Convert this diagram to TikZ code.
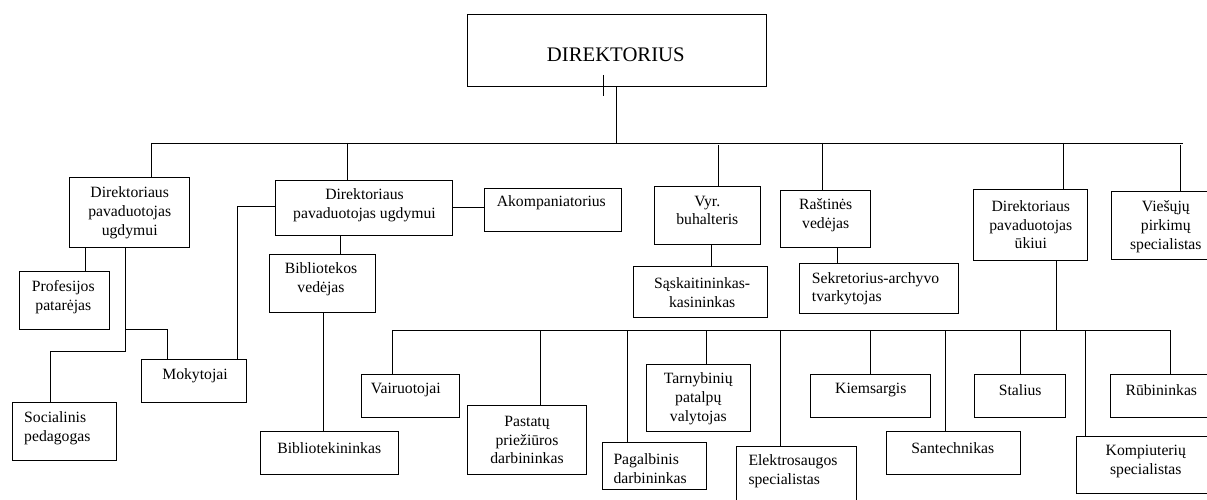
\documentclass[tikz,border=0pt]{standalone}
\usepackage{fontspec}
\setmainfont{Liberation Serif}
\begin{document}
\begin{tikzpicture}[x=1pt,y=-1pt,
  box/.style={draw=black, line width=0.9pt, inner sep=0pt, rectangle},
  lbl/.style={inner sep=0pt, align=center, font=\fontsize{15.7}{18.8}\selectfont},
  lbll/.style={inner sep=0pt, align=left, anchor=west, font=\fontsize{15.7}{18.8}\selectfont},
  ttl/.style={inner sep=0pt, font=\fontsize{20.7}{24}\selectfont},
  conn/.style={draw=black, line width=0.9pt}]
\useasboundingbox (0,0) rectangle (1207,500);
\clip (0,0) rectangle (1207,500);
\fill[white] (0,0) rectangle (1207,500);

% boxes
\node[box, minimum width=299pt, minimum height=72pt] (D) at (617.2,50) {};
\node[box, minimum width=120pt, minimum height=70pt] (b1) at (129.7,212.7) {};
\node[box, minimum width=176.6pt, minimum height=55pt] (b2) at (364,207.8) {};
\node[box, minimum width=136.7pt, minimum height=43pt] (ako) at (552.7,210.2) {};
\node[box, minimum width=105.6pt, minimum height=58pt] (vyr) at (707.5,215) {};
\node[box, minimum width=90pt, minimum height=57.3pt] (ras) at (825.7,218.7) {};
\node[box, minimum width=113.6pt, minimum height=71pt] (uk) at (1030.5,224.5) {};
\node[box, minimum width=108.3pt, minimum height=67.6pt] (vie) at (1165.9,225.5) {};
\node[box, minimum width=90.4pt, minimum height=57.6pt] (pro) at (64.5,300.5) {};
\node[box, minimum width=104.4pt, minimum height=57.6pt] (soc) at (64.5,431.5) {};
\node[box, minimum width=104.6pt, minimum height=43.3pt] (mok) at (194,380.7) {};
\node[box, minimum width=106pt, minimum height=57.6pt] (bv) at (322.7,283.5) {};
\node[box, minimum width=138pt, minimum height=42.6pt] (bk) at (329.3,453) {};
\node[box, minimum width=134.7pt, minimum height=50.6pt] (sas) at (700.3,292) {};
\node[box, minimum width=159pt, minimum height=50pt] (sek) at (878.5,288.3) {};
\node[box, minimum width=98.3pt, minimum height=43pt] (vai) at (410.2,395.5) {};
\node[box, minimum width=118.6pt, minimum height=69.3pt] (pas) at (527,439.7) {};
\node[box, minimum width=104.3pt, minimum height=46.7pt] (pag) at (654.2,465.7) {};
\node[box, minimum width=104.4pt, minimum height=67.7pt] (tar) at (698.5,397.9) {};
\node[box, minimum width=120.7pt, minimum height=64pt] (ele) at (796.3,478) {};
\node[box, minimum width=119.6pt, minimum height=43pt] (kie) at (870.5,395.5) {};
\node[box, minimum width=134.3pt, minimum height=42.6pt] (san) at (953.2,453) {};
\node[box, minimum width=90.3pt, minimum height=43pt] (sta) at (1019.9,395.5) {};
\node[box, minimum width=138.3pt, minimum height=56.6pt] (kom) at (1145.9,465) {};
\node[box, minimum width=102.7pt, minimum height=43pt] (rub) at (1161.4,395.5) {};

% texts
\node[ttl] (tD) at (615.8,54.3) {DIREKTORIUS};
\node[lbl] (tb1) at (129.7,212.5) {Direktoriaus\\pavaduotojas\\ugdymui};
\node[lbl] (tb2) at (364.5,205.5) {Direktoriaus\\pavaduotojas ugdymui};
\node[lbl] (tako) at (551.3,203) {Akompaniatorius};
\node[lbl] (tvyr) at (707.3,210.5) {Vyr.\\buhalteris};
\node[lbl] (tras) at (825.7,215) {Raštinės\\vedėjas};
\node[lbl] (tuk) at (1030.8,224.7) {Direktoriaus\\pavaduotojas\\ūkiui};
\node[lbl] (tvie) at (1165.8,226.7) {Viešųjų\\pirkimų\\specialistas};
\node[lbl] (tpro) at (63.3,297) {Profesijos\\patarėjas};
\node[lbll] (tsoc) at (24,428.3) {Socialinis\\pedagogas};
\node[lbl] (tmok) at (195,375.7) {Mokytojai};
\node[lbl] (tbv) at (321,279) {Bibliotekos\\vedėjas};
\node[lbl] (tbk) at (329.2,448.3) {Bibliotekininkas};
\node[lbl] (tsas) at (702.2,292.5) {Sąskaitininkas-\\kasininkas};
\node[lbll] (tsek) at (811.7,288.7) {Sekretorius-archyvo\\tvarkytojas};
\node[lbl] (tvai) at (405.8,390) {Vairuotojai};
\node[lbl] (tpas) at (527,440) {Pastatų\\priežiūros\\darbininkas};
\node[lbll] (tpag) at (613.3,468.7) {Pagalbinis\\darbininkas};
\node[lbl] (ttar) at (698.3,398.8) {Tarnybinių\\patalpų\\valytojas};
\node[lbll] (tele) at (748.3,471.3) {Elektrosaugos\\specialistas};
\node[lbl] (tkie) at (870.8,390) {Kiemsargis};
\node[lbl] (tsan) at (952.8,447.7) {Santechnikas};
\node[lbl] (tsta) at (1020.2,390) {Stalius};
\node[lbl] (tkom) at (1145.8,461.7) {Kompiuterių\\specialistas};
\node[lbl] (trub) at (1161.3,390) {Rūbininkas};

% coordinates
\coordinate (tickA) at (603,75);
\coordinate (tickB) at (603,96);
\coordinate (busD) at (616.7,143);
\coordinate (busL) at (151,143);
\coordinate (busR) at (1183,143);
\coordinate (j2) at (347.7,143);
\coordinate (j3) at (718.3,145);
\coordinate (j4) at (822.7,143);
\coordinate (j5) at (1063.3,143);
\coordinate (j6) at (1180,145);
\coordinate (k1) at (85.7,260);
\coordinate (k2) at (125,351);
\coordinate (k3) at (50,351);
\coordinate (k4) at (125,329.3);
\coordinate (k5) at (167.7,329.3);
\coordinate (k6) at (237,206.3);
\coordinate (k7) at (470,207.3);
\coordinate (k8) at (340.7,245);
\coordinate (k9) at (323.3,400);
\coordinate (k10) at (711,255);
\coordinate (k11) at (837.3,255);
\coordinate (m0) at (1056.3,330);
\coordinate (m1) at (392.3,330);
\coordinate (m2) at (540,330);
\coordinate (m3) at (627,330);
\coordinate (m4) at (706,330);
\coordinate (m5) at (780.7,330);
\coordinate (m6) at (870.7,330);
\coordinate (m7) at (945.7,330);
\coordinate (m8) at (1020.3,330);
\coordinate (m9) at (1085,330);
\coordinate (m10) at (1170,330);

% connectors
\draw[conn] (tickA) -- (tickB);
\draw[conn] (busD |- D.south) -- (busD);
\draw[conn] (busL) -- (busR);
\draw[conn] (busL) -- (busL |- b1.north);
\draw[conn] (j2) -- (j2 |- b2.north);
\draw[conn] (j3) -- (j3 |- vyr.north);
\draw[conn] (j4) -- (j4 |- ras.north);
\draw[conn] (j5) -- (j5 |- uk.north);
\draw[conn] (j6) -- (j6 |- vie.north);
\draw[conn] (k1 |- b1.south) -- (k1 |- pro.north);
\draw[conn] (k2 |- b1.south) -- (k2) -- (k3) -- (k3 |- soc.north);
\draw[conn] (k4) -- (k5) -- (k5 |- mok.north);
\draw[conn] (b2.west |- k6) -- (k6) -- (k6 |- mok.north);
\draw[conn] (b2.east |- k7) -- (ako.west |- k7);
\draw[conn] (k8 |- b2.south) -- (k8 |- bv.north);
\draw[conn] (k9 |- bv.south) -- (k9 |- bk.north);
\draw[conn] (k10 |- vyr.south) -- (k10 |- sas.north);
\draw[conn] (k11 |- ras.south) -- (k11 |- sek.north);
\draw[conn] (m0 |- uk.south) -- (m0);
\draw[conn] (m1) -- (m10);
\draw[conn] (m1) -- (m1 |- vai.north);
\draw[conn] (m2) -- (m2 |- pas.north);
\draw[conn] (m3) -- (m3 |- pag.north);
\draw[conn] (m4) -- (m4 |- tar.north);
\draw[conn] (m5) -- (m5 |- ele.north);
\draw[conn] (m6) -- (m6 |- kie.north);
\draw[conn] (m7) -- (m7 |- san.north);
\draw[conn] (m8) -- (m8 |- sta.north);
\draw[conn] (m9) -- (m9 |- kom.north);
\draw[conn] (m10) -- (m10 |- rub.north);
\end{tikzpicture}
\end{document}
